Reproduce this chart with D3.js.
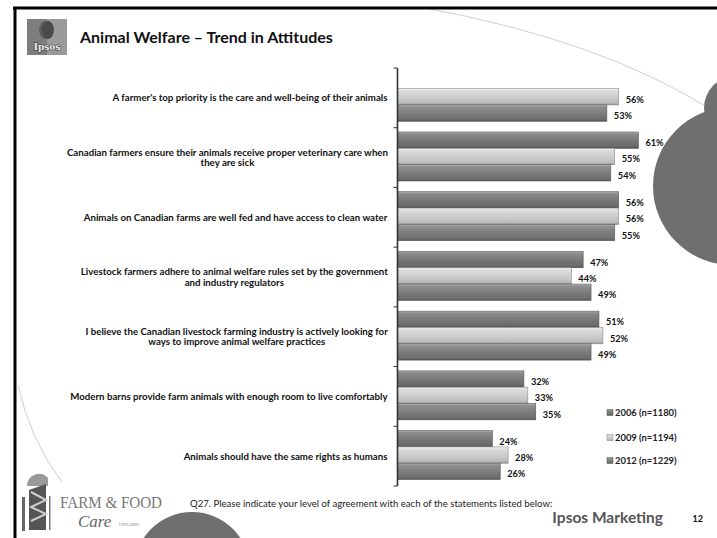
<!DOCTYPE html>
<html>
<head>
<meta charset="utf-8">
<script src="https://cdn.jsdelivr.net/npm/d3@7"></script>
<style>
  html, body { margin: 0; padding: 0; background: #fff; }
  svg { display: block; font-family: Lato, "Open Sans", sans-serif; }
</style>
</head>
<body>
<svg id="chart" width="717" height="538"></svg>
<script>
// Survey statements (top to bottom)
const categories = [
  ["A farmer's top priority is the care and well-being of their animals"],
  ["Canadian farmers ensure their animals receive proper veterinary care when", "they are sick"],
  ["Animals on Canadian farms are well fed and have access to clean water"],
  ["Livestock farmers adhere to animal welfare rules set by the government", "and industry regulators"],
  ["I believe the Canadian livestock farming industry is actively looking for", "ways to improve animal welfare practices"],
  ["Modern barns provide farm animals with enough room to live comfortably"],
  ["Animals should have the same rights as humans"]
];
const seriesNames = ["2006 (n=1180)", "2009 (n=1194)", "2012 (n=1229)"];
// Percent agreeing per wave; null = statement not asked that year
const values2006 = [null, 61, 56, 47, 51, 32, 24];
const values2009 = [56, 55, 56, 44, 52, 33, 28];
const values2012 = [53, 54, 55, 49, 49, 35, 26];
const seriesValues = [values2006, values2009, values2012];

const svg = d3.select("#chart");
const defs = svg.append("defs");

// Bar gradients: darker waves and the lighter 2009 wave
const gradSpecs = [
  { id: "g0", stops: [["0%", "#b4b4b4"], ["12%", "#8c8c8c"], ["55%", "#767676"], ["88%", "#6a6a6a"], ["100%", "#4e4e4e"]] },
  { id: "g1", stops: [["0%", "#f4f4f4"], ["14%", "#dcdcdc"], ["55%", "#cccccc"], ["88%", "#bcbcbc"], ["100%", "#8e8e8e"]] },
  { id: "g2", stops: [["0%", "#b8b8b8"], ["12%", "#909090"], ["55%", "#7b7b7b"], ["88%", "#6e6e6e"], ["100%", "#525252"]] }
];
gradSpecs.forEach(g => {
  const lg = defs.append("linearGradient").attr("id", g.id)
    .attr("x1", 0).attr("y1", 0).attr("x2", 0).attr("y2", 1);
  g.stops.forEach(s => lg.append("stop").attr("offset", s[0]).attr("stop-color", s[1]));
});
const strokeCols = ["#555", "#8a8a8a", "#585858"];

// ---- Slide decoration ----
// thin arcs
svg.append("path")
  .attr("d", "M 425 8 Q 600 40 712 110")
  .attr("fill", "none").attr("stroke", "#cfcfcf").attr("stroke-width", 1);
svg.append("path")
  .attr("d", "M 18 385 Q 30 440 62 482")
  .attr("fill", "none").attr("stroke", "#cfcfcf").attr("stroke-width", 1);
// gray discs
svg.append("circle").attr("cx", 736).attr("cy", 108).attr("r", 32).attr("fill", "#6f6f6f");
svg.append("circle").attr("cx", 732).attr("cy", 186).attr("r", 79).attr("fill", "#6f6f6f");
svg.append("circle").attr("cx", 192).attr("cy", 570).attr("r", 58).attr("fill", "#6f6f6f");

// frame
svg.append("line").attr("x1", 13).attr("x2", 717).attr("y1", 8).attr("y2", 8)
  .attr("stroke", "#000").attr("stroke-width", 3);
svg.append("line").attr("x1", 15).attr("x2", 15).attr("y1", 7).attr("y2", 538)
  .attr("stroke", "#000").attr("stroke-width", 3);

// Ipsos logo
const logo = svg.append("g").attr("transform", "translate(27,19)");
logo.append("rect").attr("width", 40).attr("height", 36).attr("fill", "#7e7e7e");
logo.append("rect").attr("x", 20).attr("width", 20).attr("height", 36).attr("fill", "#9a9a9a");
logo.append("ellipse").attr("cx", 19).attr("cy", 11).attr("rx", 7).attr("ry", 9).attr("fill", "#5c5c5c");
logo.append("ellipse").attr("cx", 21).attr("cy", 11).attr("rx", 6).attr("ry", 9).attr("fill", "#4a4a4a");
logo.append("text").attr("x", 20).attr("y", 31).attr("text-anchor", "middle")
  .style("font-family", "'DejaVu Serif', serif").attr("font-size", 9).attr("font-weight", 700)
  .attr("fill", "#eee").attr("stroke", "#333").attr("stroke-width", 0.9).attr("paint-order", "stroke")
  .text("Ipsos");

// title
svg.append("text").attr("x", 80).attr("y", 43)
  .attr("font-size", 16).attr("font-weight", 700).attr("fill", "#111")
  .text("Animal Welfare \u2013 Trend in Attitudes");

// ---- Chart ----
const x0 = 397.5, yTop = 68, yBot = 486;
const x = d3.scaleLinear().domain([0, 100]).range([x0, x0 + 395]);
const y = d3.scaleBand().domain(d3.range(categories.length)).range([yTop, yBot]).padding(0);
const ySub = d3.scaleBand().domain(d3.range(seriesNames.length)).range([0, y.bandwidth()])
  .paddingInner(0).paddingOuter(0.33).align(0.4);

const bars = [];
categories.forEach((c, i) => {
  seriesValues.forEach((vals, s) => {
    if (vals[i] != null) bars.push({ cat: i, s, v: vals[i] });
  });
});

const gBars = svg.append("g");
gBars.selectAll("rect").data(bars).enter().append("rect")
  .attr("x", x(0))
  .attr("y", d => y(d.cat) + ySub(d.s))
  .attr("width", d => x(d.v) - x(0))
  .attr("height", ySub.bandwidth())
  .attr("fill", d => `url(#g${d.s})`)
  .attr("stroke", d => strokeCols[d.s]).attr("stroke-width", 0.6);

// value labels
gBars.selectAll("text").data(bars).enter().append("text")
  .attr("x", d => x(d.v) + 7)
  .attr("y", d => y(d.cat) + ySub(d.s) + ySub.bandwidth() / 2 + 6)
  .attr("font-size", 9.2).attr("font-weight", 700).attr("fill", "#111")
  .text(d => d.v + "%");

// category axis with ticks at group boundaries
const axisG = svg.append("g");
axisG.append("line").attr("x1", x0).attr("x2", x0).attr("y1", yTop).attr("y2", yBot)
  .attr("stroke", "#333").attr("stroke-width", 1.6);
const boundaries = d3.range(categories.length + 1).map(i => yTop + i * y.step());
axisG.selectAll("line.tick").data(boundaries).enter().append("line").attr("class", "tick")
  .attr("x1", x0 - 4).attr("x2", x0).attr("y1", d => d).attr("y2", d => d)
  .attr("stroke", "#333").attr("stroke-width", 1);

// category labels
const catG = svg.append("g");
categories.forEach((lines, i) => {
  const cy = y(i) + y.bandwidth() / 2;
  const lh = 10.7;
  const t = catG.append("text").attr("text-anchor", "middle")
    .attr("font-size", 9.7).attr("font-weight", 700).attr("fill", "#111");
  lines.forEach((ln, k) => {
    t.append("tspan").attr("x", 0).attr("y", cy + (k - (lines.length - 1) / 2) * lh + 3.4).text(ln);
  });
  // right-align the block while centring its lines
  const w = t.node().getBBox().width;
  t.attr("transform", `translate(${388 - w / 2},0)`);
});

// legend
const legY = [413, 438, 461];
const leg = svg.append("g");
seriesNames.forEach((n, s) => {
  leg.append("rect").attr("x", 607).attr("y", legY[s] - 3.5).attr("width", 6).attr("height", 6)
    .attr("fill", `url(#g${s})`).attr("stroke", strokeCols[s]).attr("stroke-width", 0.5);
  leg.append("text").attr("x", 615).attr("y", legY[s] + 3.2)
    .attr("font-size", 9.4).attr("font-weight", 700).attr("fill", "#222").text(n);
});

// ---- Footer ----
svg.append("text").attr("x", 190).attr("y", 507)
  .attr("font-size", 9.6).attr("fill", "#222")
  .text("Q27. Please indicate your level of agreement with each of the statements listed below:");
svg.append("text").attr("x", 663).attr("y", 523).attr("text-anchor", "end")
  .attr("font-size", 15.5).attr("font-weight", 700).attr("fill", "#555").text("Ipsos Marketing");
svg.append("text").attr("x", 703).attr("y", 522).attr("text-anchor", "end")
  .attr("font-size", 9).attr("font-weight", 700).attr("fill", "#111").text("12");

// Farm & Food Care mark
const ff = svg.append("g");
ff.append("path").attr("d", "M 27 486 A 12 12 0 0 1 48 478 L 48 486 Z").attr("fill", "#9a9a9a");
ff.append("rect").attr("x", 22).attr("y", 497).attr("width", 3).attr("height", 34).attr("fill", "#666");
ff.append("path").attr("d", "M 29 530 L 29 490 L 46 484 L 46 530 Z").attr("fill", "#555");
ff.append("path").attr("d", "M 31 492 L 46 500 L 31 507 L 46 514 L 31 521").attr("fill", "none")
  .attr("stroke", "#ccc").attr("stroke-width", 2);
ff.append("rect").attr("x", 49).attr("y", 496).attr("width", 1.5).attr("height", 34).attr("fill", "#777");
ff.append("text").attr("x", 60).attr("y", 508)
  .style("font-family", "'Liberation Serif', 'DejaVu Serif', serif")
  .attr("font-size", 16).attr("fill", "#777")
  .attr("textLength", 102).attr("lengthAdjust", "spacingAndGlyphs").text("FARM & FOOD");
ff.append("text").attr("x", 78).attr("y", 527)
  .style("font-family", "'Liberation Serif', 'DejaVu Serif', serif")
  .attr("font-style", "italic").attr("font-size", 17).attr("fill", "#666").text("Care");
ff.append("text").attr("x", 119).attr("y", 526)
  .style("font-family", "'Liberation Serif', 'DejaVu Serif', serif")
  .attr("font-size", 4.5).attr("fill", "#777").text("ONTARIO");
</script>
</body>
</html>
